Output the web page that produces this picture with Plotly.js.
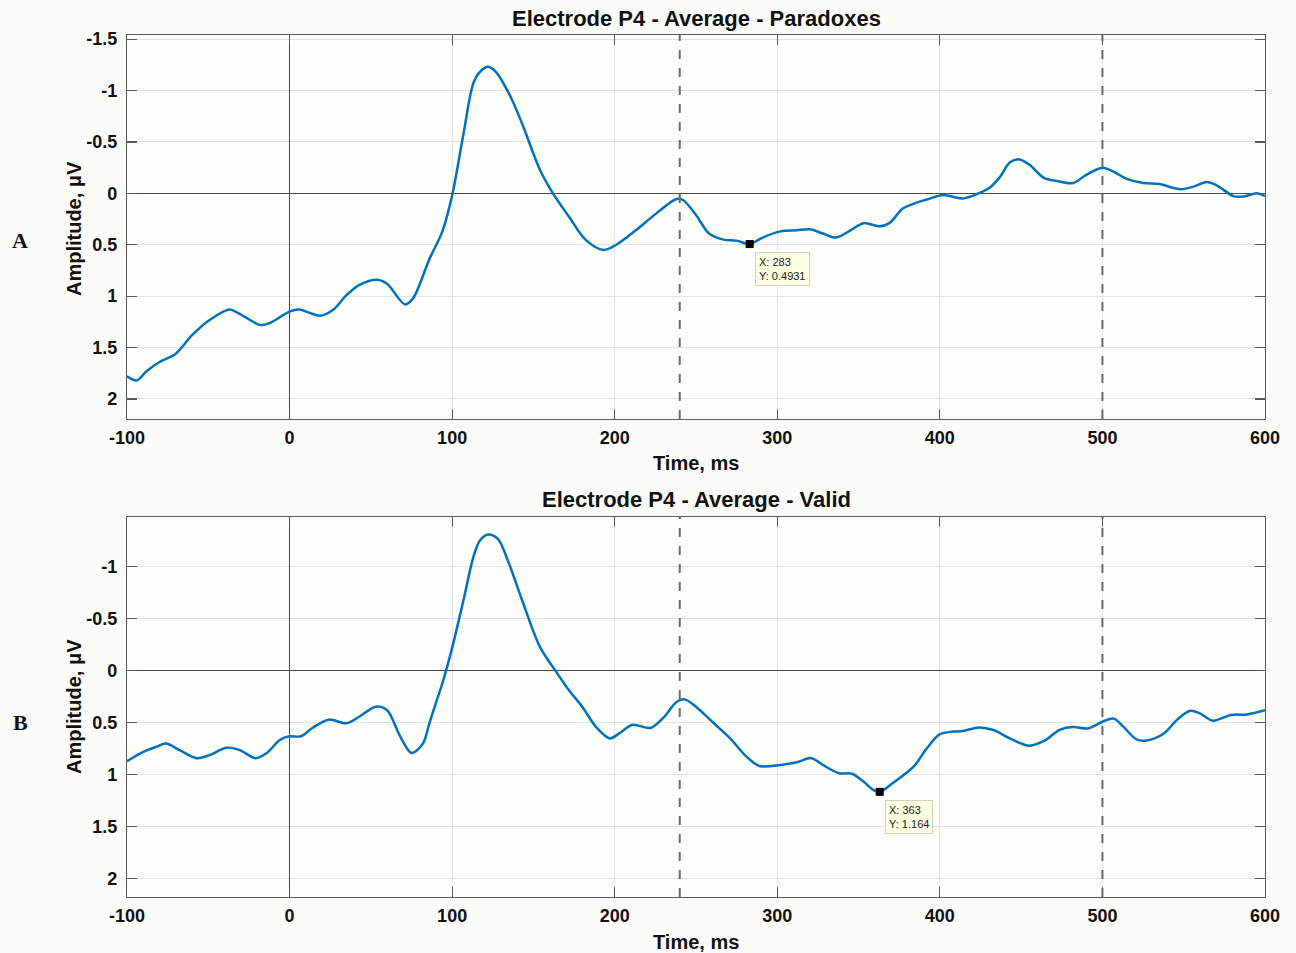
<!DOCTYPE html>
<html>
<head>
<meta charset="utf-8">
<script src="https://cdn.plot.ly/plotly-3.0.1.min.js"></script>
<style>html,body{margin:0;padding:0;background:#fbfbf8;}#chart{width:1296px;height:953px;}</style>
</head>
<body>
<div id="chart"></div>
<script>
// Panel A: Paradoxes
const timeA = [-100,-94,-88,-80,-70,-60,-49,-37,-31,-18,-12,0,6,12,19,27,35,43,54,60,71,76,86,94,100,107,113,117,122,127,135,143,154,162,172,182,193,201,213,226,238,242,250,258,267,275,283,291,302,312,320,328,336,345,353,363,369,377,384,392,402,414,423,431,437,443,449,455,464,472,482,490,500,507,515,525,535,548,556,564,570,581,587,595,600];
const ampA = [1.78,1.82,1.73,1.64,1.56,1.38,1.23,1.13,1.17,1.28,1.26,1.15,1.13,1.16,1.19,1.13,0.99,0.89,0.84,0.88,1.08,1.02,0.64,0.37,0.02,-0.58,-1.07,-1.18,-1.23,-1.18,-0.97,-0.68,-0.23,0.0,0.23,0.45,0.55,0.50,0.36,0.19,0.055,0.065,0.21,0.39,0.45,0.46,0.4931,0.43,0.37,0.36,0.35,0.39,0.43,0.36,0.29,0.32,0.29,0.15,0.10,0.06,0.016,0.05,0.006,-0.06,-0.16,-0.30,-0.33,-0.28,-0.15,-0.12,-0.10,-0.18,-0.25,-0.21,-0.14,-0.10,-0.09,-0.04,-0.065,-0.11,-0.08,0.03,0.03,0.0,0.026];
// Panel B: Valid
const timeB = [-100,-90,-82,-76,-68,-57,-49,-39,-31,-21,-14,-6,0,7,14,24,35,43,53,60,68,75,82,86,90,94,100,107,113,117,122,128,135,143,154,164,172,180,189,197,203,211,222,230,238,243,250,261,271,281,289,302,312,321,328,338,346,353,359,363,371,384,392,400,408,414,424,433,443,455,464,474,482,491,500,507,513,521,527,538,546,554,560,568,579,589,600];
const ampB = [0.87,0.78,0.73,0.70,0.76,0.84,0.81,0.74,0.76,0.84,0.79,0.665,0.63,0.63,0.55,0.47,0.505,0.44,0.345,0.38,0.63,0.79,0.70,0.505,0.31,0.12,-0.22,-0.68,-1.09,-1.25,-1.31,-1.27,-1.03,-0.68,-0.23,0.01,0.19,0.345,0.55,0.65,0.60,0.52,0.55,0.45,0.30,0.275,0.345,0.505,0.65,0.825,0.915,0.905,0.88,0.84,0.905,0.985,0.99,1.065,1.145,1.164,1.08,0.92,0.745,0.61,0.585,0.58,0.545,0.57,0.65,0.72,0.675,0.565,0.54,0.555,0.49,0.46,0.54,0.66,0.67,0.60,0.47,0.385,0.41,0.48,0.425,0.42,0.38];

const markerLines = [240, 500];
const tipA = {x: 283, y: 0.4931, label: "X: 283<br>Y: 0.4931"};
const tipB = {x: 363, y: 1.164, label: "X: 363<br>Y: 1.164"};

const titleA = "Electrode P4 - Average - Paradoxes";
const titleB = "Electrode P4 - Average - Valid";
const xTitle = "Time, ms";
const yTitle = "Amplitude, μV";

const xTickVals = [-100,0,100,200,300,400,500,600];
const xTickText = ["-100","0","100","200","300","400","500","600"];
const yTickVals = [-1.5,-1,-0.5,0,0.5,1,1.5,2];
const yTickText = ["-1.5","-1","-0.5","0","0.5","1","1.5","2"];

const blue = "#0072BD";
const font = "Liberation Sans, Arial, sans-serif";

const traces = [
  {x: timeA, y: ampA, xaxis: "x", yaxis: "y", mode: "lines", line: {color: blue, width: 2.5, shape: "spline", smoothing: 0.9}, hoverinfo: "skip"},
  {x: timeB, y: ampB, xaxis: "x2", yaxis: "y2", mode: "lines", line: {color: blue, width: 2.5, shape: "spline", smoothing: 0.9}, hoverinfo: "skip"},
  {x: [tipA.x], y: [tipA.y], xaxis: "x", yaxis: "y", mode: "markers", marker: {symbol: "square", size: 8, color: "#000"}},
  {x: [tipB.x], y: [tipB.y], xaxis: "x2", yaxis: "y2", mode: "markers", marker: {symbol: "square", size: 8, color: "#000"}}
];

function xax(domainAnchor) {
  return {
    anchor: domainAnchor, range: [-100, 600], tickvals: xTickVals, ticktext: xTickText,
    showgrid: true, gridcolor: "#e4e4e4", gridwidth: 1,
    zeroline: true, zerolinecolor: "#4a4a4a", zerolinewidth: 1.3,
    showline: true, linecolor: "#5a5a5a", linewidth: 1.2, mirror: "ticks",
    ticks: "inside", ticklen: 10, tickcolor: "#5a5a5a", tickwidth: 1.2,
    tickfont: {family: font, size: 18, color: "#111", weight: "bold"},
    ticklabelstandoff: 2
  };
}
function yax(domainAnchor, dom, rng) {
  return {
    anchor: domainAnchor, domain: dom, range: rng, tickvals: yTickVals, ticktext: yTickText,
    showgrid: true, gridcolor: "#e4e4e4", gridwidth: 1,
    zeroline: true, zerolinecolor: "#4a4a4a", zerolinewidth: 1.3,
    showline: true, linecolor: "#5a5a5a", linewidth: 1.2, mirror: "ticks",
    ticks: "inside", ticklen: 10, tickcolor: "#5a5a5a", tickwidth: 1.2,
    tickfont: {family: font, size: 18, color: "#111", weight: "bold"},
    ticklabelstandoff: 5
  };
}

const shapes = [];
markerLines.forEach(v => {
  ["x", "x2"].forEach((xr, i) => {
    shapes.push({type: "line", xref: xr, yref: (i === 0 ? "y domain" : "y2 domain"), x0: v, x1: v, y0: 0, y1: 1,
      line: {color: "#6a6a6a", width: 2, dash: "dash"}});
  });
});

const boldFont = (s) => ({family: font, size: s, color: "#111", weight: "bold"});
const C = {xanchor: "center", yanchor: "middle", showarrow: false, xref: "paper", yref: "paper"};
const annotations = [
  Object.assign({text: titleA, x: 0.5, y: 1.0197, font: boldFont(22)}, C),
  Object.assign({text: titleB, x: 0.5, y: 0.4617, font: boldFont(22)}, C),
  Object.assign({text: xTitle, x: 0.5, y: 0.5035, font: boldFont(20)}, C),
  Object.assign({text: xTitle, x: 0.5, y: -0.0522, font: boldFont(20)}, C),
  Object.assign({text: yTitle, x: -0.0466, y: 0.776, textangle: -90, font: boldFont(20)}, C),
  Object.assign({text: yTitle, x: -0.0466, y: 0.2216, textangle: -90, font: boldFont(20)}, C),
  Object.assign({text: "A", x: -0.094, y: 0.762, font: {family: "Liberation Serif, Times New Roman, serif", size: 22, color: "#111", weight: "bold"}}, C),
  Object.assign({text: "B", x: -0.094, y: 0.203, font: {family: "Liberation Serif, Times New Roman, serif", size: 22, color: "#111", weight: "bold"}}, C),
  {text: tipA.label, xref: "x", yref: "y", x: tipA.x, y: tipA.y, xanchor: "left", yanchor: "top", xshift: 5, yshift: -8,
    showarrow: false, align: "left", bgcolor: "#ffffe4", bordercolor: "#d2d2c4", borderwidth: 1, borderpad: 3,
    font: {family: font, size: 11, color: "#222"}},
  {text: tipB.label, xref: "x2", yref: "y2", x: tipB.x, y: tipB.y, xanchor: "left", yanchor: "top", xshift: 5, yshift: -8,
    showarrow: false, align: "left", bgcolor: "#ffffe4", bordercolor: "#d2d2c4", borderwidth: 1, borderpad: 3,
    font: {family: font, size: 11, color: "#222"}}
];

const layout = {
  width: 1296, height: 953,
  margin: {l: 127, r: 31, t: 35, b: 56},
  paper_bgcolor: "#fbfbf8", plot_bgcolor: "#fdfdfa",
  showlegend: false,
  xaxis: xax("y"),
  yaxis: yax("x", [0.5545, 1], [2.195, -1.54]),
  xaxis2: xax("y2"),
  yaxis2: yax("x2", [0, 0.4408], [2.175, -1.478]),
  shapes: shapes,
  annotations: annotations
};

Plotly.newPlot("chart", traces, layout, {staticPlot: true});
</script>
</body>
</html>
